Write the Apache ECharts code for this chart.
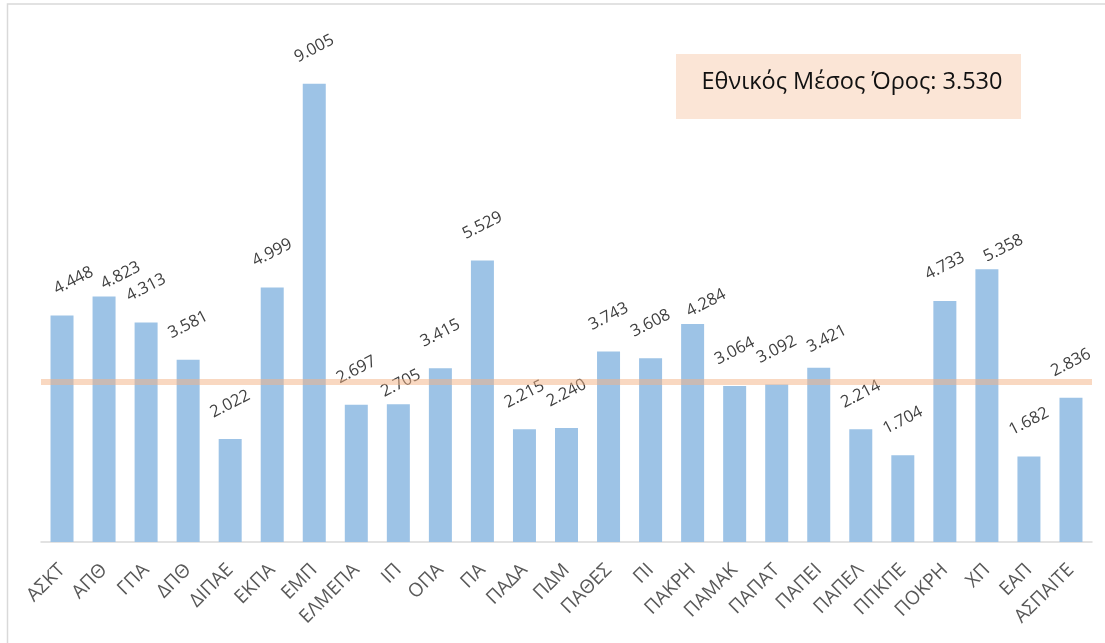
<!DOCTYPE html>
<html>
<head>
<meta charset="utf-8">
<script src="https://cdn.jsdelivr.net/npm/echarts@6/dist/echarts.min.js"></script>
<style>
html,body{margin:0;padding:0;background:#fff;}
#chart{width:1105px;height:643px;}
</style>
</head>
<body>
<div id="chart"></div>
<script>
// ---- data ----
var categories = ['ΑΣΚΤ','ΑΠΘ','ΓΠΑ','ΔΠΘ','ΔΙΠΑΕ','ΕΚΠΑ','ΕΜΠ','ΕΛΜΕΠΑ','ΙΠ','ΟΠΑ','ΠΑ','ΠΑΔΑ','ΠΔΜ','ΠΑΘΕΣ','ΠΙ','ΠΑΚΡΗ','ΠΑΜΑΚ','ΠΑΠΑΤ','ΠΑΠΕΙ','ΠΑΠΕΛ','ΠΠΚΠΕ','ΠΟΚΡΗ','ΧΠ','ΕΑΠ','ΑΣΠΑΙΤΕ'];
var values = [4.448,4.823,4.313,3.581,2.022,4.999,9.005,2.697,2.705,3.415,5.529,2.215,2.240,3.743,3.608,4.284,3.064,3.092,3.421,2.214,1.704,4.733,5.358,1.682,2.836];
var nationalAverage = 3.530;
var averageLabel = 'Εθνικός Μέσος Όρος: ';

// ---- label nudges (styling only) ----
var labelNudge = {0:[11.5,0],1:[16.5,14],8:[2.5,14],15:[13.5,14],18:[8,6],22:[16.5,14]};

var chart = echarts.init(document.getElementById('chart'), null, {renderer:'canvas'});
var FONT = '"Open Sans", "Noto Sans", sans-serif';

var barData = values.map(function(v, i){
  var n = labelNudge[i] || [0,0];
  return {value: v, label: {position: [11.5 + n[0], -35 + n[1]]}};
});

var option = {
  backgroundColor: '#ffffff',
  animation: false,
  grid: {left: 41, right: 13, top: 33, bottom: 101, containLabel: false, outerBoundsMode: 'none'},
  xAxis: [{
    type: 'category',
    data: categories,
    axisLine: {show: true, lineStyle: {color: '#d9d9d9', width: 1.5}},
    axisTick: {show: false},
    axisLabel: {rotate: 45, margin: 25, color: '#595959', fontSize: 19, fontFamily: FONT, interval: 0}
  }],
  yAxis: [
    {type: 'value', min: 0, max: 10, show: false, splitLine: {show: false}},
    {type: 'value', min: 0, max: 11.23, show: false, splitLine: {show: false}}
  ],
  series: [
    {
      type: 'bar',
      data: barData,
      barWidth: 23,
      itemStyle: {color: '#9DC3E6'},
      z: 2,
      label: {
        show: true,
        rotate: 27,
        align: 'center',
        verticalAlign: 'middle',
        color: '#404040',
        fontSize: 16.5,
        fontFamily: FONT,
        formatter: function(p){ return p.value.toFixed(3); }
      }
    },
    {
      type: 'line',
      yAxisIndex: 1,
      data: [],
      z: 5,
      markLine: {
        silent: true,
        symbol: 'none',
        label: {show: false},
        lineStyle: {color: '#F4B183', opacity: 0.5, width: 6, type: 'solid'},
        data: [{yAxis: nationalAverage}]
      }
    }
  ],
  graphic: [
    {
      type: 'rect',
      shape: {x: 7.5, y: 4, width: 1200, height: 700},
      style: {fill: 'none', stroke: '#d9d9d9', lineWidth: 1.5},
      silent: true, z: 0
    },
    {
      type: 'rect',
      shape: {x: 676, y: 54, width: 345, height: 65},
      style: {fill: '#FBE5D6'},
      z: 10
    },
    {
      type: 'text',
      x: 852, y: 82,
      style: {
        text: averageLabel + nationalAverage.toFixed(3),
        fill: '#111111',
        font: '23.5px ' + FONT,
        align: 'center',
        verticalAlign: 'middle'
      },
      z: 11
    }
  ]
};
chart.setOption(option);
</script>
</body>
</html>
